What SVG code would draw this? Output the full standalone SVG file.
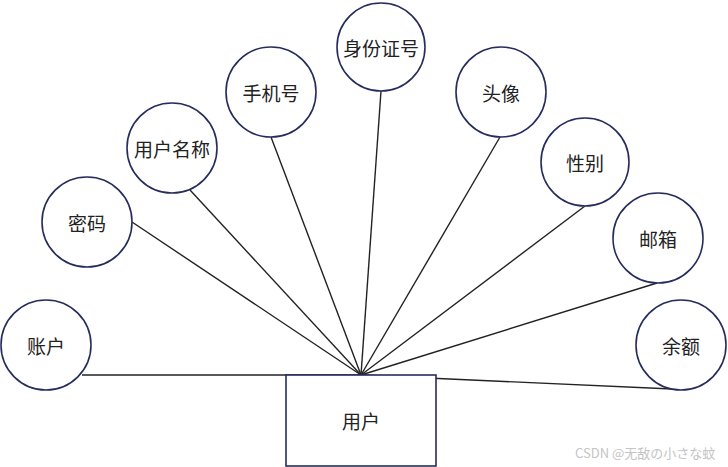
<svg xmlns="http://www.w3.org/2000/svg" width="728" height="467" viewBox="0 0 728 467">
<style>
.n circle{fill:#fff;stroke:#262d5c;stroke-width:1.6}
.n rect{fill:#fff;stroke:#262d5c;stroke-width:1.6}
.t{font-family:"Noto Sans CJK SC","Noto Sans",sans-serif;font-size:19px;fill:#222;text-anchor:middle;dominant-baseline:central}
.e line{stroke:#222;stroke-width:1.4}
.wm{font-family:"Noto Sans CJK SC","Noto Sans",sans-serif;font-size:13px;fill:#c4c4c4}
</style>
<rect width="728" height="467" fill="#fff"/>
<g id="connectors" class="e">
<line x1="82" y1="375" x2="361" y2="375"/>
<line x1="132" y1="222" x2="361" y2="375"/>
<line x1="190" y1="190" x2="361" y2="375"/>
<line x1="271" y1="137" x2="361" y2="375"/>
<line x1="381" y1="91" x2="361" y2="375"/>
<line x1="500" y1="137" x2="361" y2="375"/>
<line x1="585" y1="206" x2="361" y2="375"/>
<line x1="657" y1="283" x2="361" y2="375"/>
<line x1="672" y1="389" x2="361" y2="375"/>
</g>
<g id="user" class="n"><rect x="286" y="375" width="150" height="91"/><text class="t" x="361" y="420">用户</text></g>
<g id="account" class="n"><circle cx="46" cy="345" r="45"/><text class="t" x="46" y="345">账户</text></g>
<g id="password" class="n"><circle cx="87" cy="222" r="45"/><text class="t" x="87" y="222">密码</text></g>
<g id="username" class="n"><circle cx="172" cy="148" r="45"/><text class="t" x="172" y="148">用户名称</text></g>
<g id="phone" class="n"><circle cx="271" cy="92" r="45"/><text class="t" x="271" y="92">手机号</text></g>
<g id="idcard" class="n"><circle cx="381" cy="47" r="44"/><text class="t" x="381" y="47">身份证号</text></g>
<g id="avatar" class="n"><circle cx="501" cy="92" r="45"/><text class="t" x="501" y="92">头像</text></g>
<g id="gender" class="n"><circle cx="585" cy="162" r="44"/><text class="t" x="585" y="162">性别</text></g>
<g id="email" class="n"><circle cx="658" cy="238" r="45"/><text class="t" x="658" y="238">邮箱</text></g>
<g id="balance" class="n"><circle cx="681" cy="345" r="45"/><text class="t" x="681" y="345">余额</text></g>
<text class="wm" x="575" y="458">CSDN @无敌の小さな蚊</text>
</svg>
